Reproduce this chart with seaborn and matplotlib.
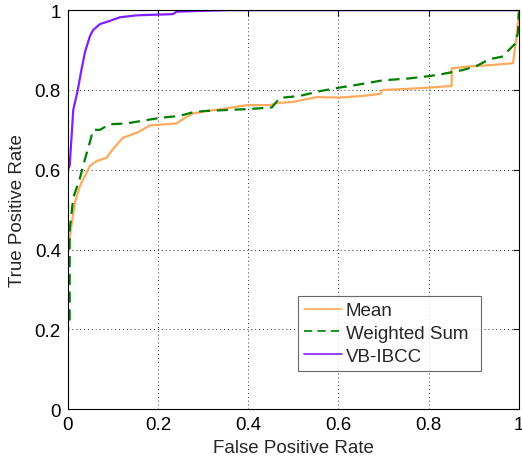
import numpy as np
import pandas as pd
import seaborn as sns
import matplotlib.pyplot as plt

# ROC curves
vb_fpr = [0.0, 0.0, 0.004, 0.012, 0.022, 0.030, 0.038, 0.049, 0.056, 0.071, 0.093,
          0.115, 0.153, 0.233, 0.241, 0.29, 0.36, 1.0]
vb_tpr = [0.0, 0.60, 0.61, 0.75, 0.80, 0.85, 0.895, 0.935, 0.95, 0.965, 0.973,
          0.982, 0.987, 0.990, 0.996, 0.998, 1.0, 1.0]

ws_fpr = [0.0, 0.0, 0.004, 0.004, 0.012, 0.027, 0.038, 0.049, 0.056, 0.071, 0.093,
          0.13, 0.204, 0.248, 0.277, 0.30, 0.397, 0.452, 0.47, 0.514, 0.559, 0.603,
          0.647, 0.698, 0.758, 0.803, 0.831, 0.876, 0.906, 0.935, 0.965, 0.976,
          0.991, 0.998, 1.0]
ws_tpr = [0.0, 0.20, 0.22, 0.45, 0.53, 0.58, 0.627, 0.67, 0.70, 0.70, 0.714,
          0.716, 0.73, 0.735, 0.744, 0.747, 0.752, 0.756, 0.78, 0.785, 0.797, 0.806,
          0.814, 0.824, 0.829, 0.835, 0.840, 0.85, 0.86, 0.877, 0.884, 0.898,
          0.915, 0.944, 0.995]

mean_fpr = [0.0, 0.0, 0.004, 0.016, 0.027, 0.049, 0.064, 0.086, 0.10, 0.122, 0.153,
            0.182, 0.241, 0.255, 0.277, 0.308, 0.352, 0.397, 0.448, 0.463, 0.499,
            0.552, 0.603, 0.654, 0.692, 0.698, 0.743, 0.803, 0.851, 0.851, 0.891,
            0.935, 0.987, 0.991, 0.996, 1.0]
mean_tpr = [0.0, 0.40, 0.43, 0.52, 0.56, 0.61, 0.622, 0.63, 0.652, 0.68, 0.693,
            0.711, 0.716, 0.727, 0.741, 0.747, 0.754, 0.762, 0.762, 0.767, 0.77,
            0.782, 0.781, 0.785, 0.79, 0.80, 0.802, 0.806, 0.81, 0.854, 0.859,
            0.862, 0.867, 0.902, 0.944, 0.998]

ticks = [0, 0.2, 0.4, 0.6, 0.8, 1]
tick_labels = ["0", "0.2", "0.4", "0.6", "0.8", "1"]

sns.set_style("white")
plt.rcParams['font.family'] = ['Liberation Sans', 'DejaVu Sans']

fig = plt.figure(figsize=(5.22, 4.64), dpi=100)
ax = fig.add_axes([0.130, 0.116, 0.864, 0.860])

df_mean = pd.DataFrame({"fpr": mean_fpr, "tpr": mean_tpr})
df_ws = pd.DataFrame({"fpr": ws_fpr, "tpr": ws_tpr})
df_vb = pd.DataFrame({"fpr": vb_fpr, "tpr": vb_tpr})

sns.lineplot(data=df_mean, x="fpr", y="tpr", ax=ax, sort=False, estimator=None,
             color="#FFAA5C", lw=1.6, label="Mean")
sns.lineplot(data=df_ws, x="fpr", y="tpr", ax=ax, sort=False, estimator=None,
             color="#007F00", lw=1.6, label="Weighted Sum")
ax.lines[-1].set_dashes([5, 3])
sns.lineplot(data=df_vb, x="fpr", y="tpr", ax=ax, sort=False, estimator=None,
             color="#8020FF", lw=1.6, label="VB-IBCC")

ax.set_xlim(0, 1)
ax.set_ylim(0, 1)
ax.set_xticks(ticks)
ax.set_xticklabels(tick_labels)
ax.set_yticks(ticks)
ax.set_yticklabels(tick_labels)
ax.grid(True, color="black", linestyle=(0, (1, 3)), linewidth=0.7, alpha=0.8)
ax.tick_params(direction="in", length=4, width=0.8, labelsize=13.5, colors="black",
               top=True, right=True, pad=5)
for s in ax.spines.values():
    s.set_color("black")
    s.set_linewidth(0.8)
ax.set_xlabel("False Positive Rate", fontsize=13.5, labelpad=4)
ax.set_ylabel("True Positive Rate", fontsize=13.5, labelpad=6)

leg = ax.legend(loc="lower left", bbox_to_anchor=(0.51, 0.095, 0.406, 0.243),
                mode="expand", fontsize=13.5, frameon=True, fancybox=False,
                handlelength=2.0, handletextpad=0.2, borderpad=0.35,
                labelspacing=0.3, borderaxespad=0)
leg.get_frame().set_edgecolor("#444444")
leg.get_frame().set_linewidth(0.8)
for h in leg.get_lines():
    h.set_linewidth(1.2)

fig.savefig("out.png", dpi=100)
